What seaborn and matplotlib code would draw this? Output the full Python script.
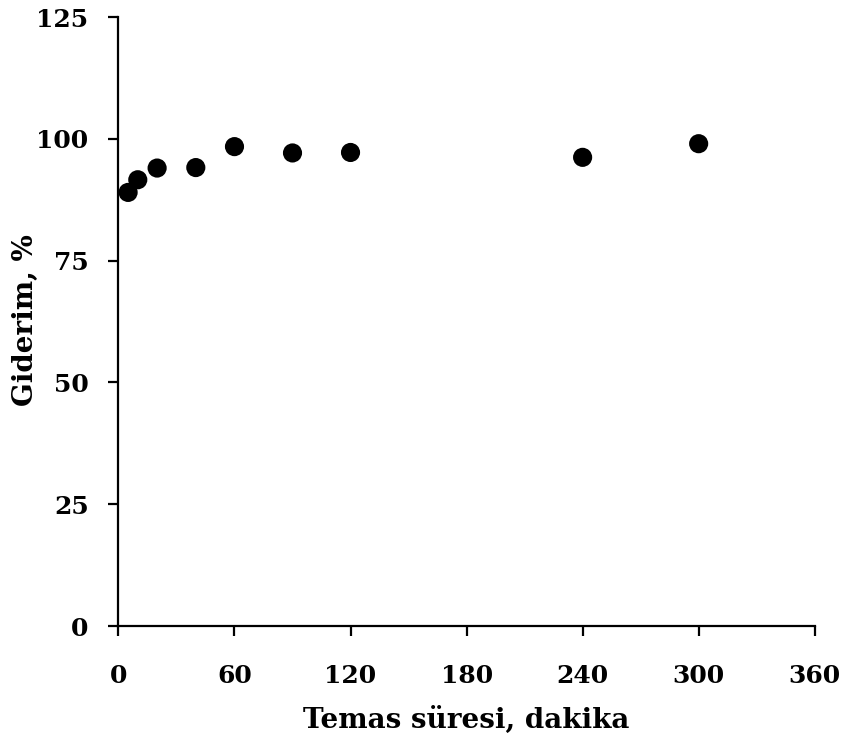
import matplotlib
matplotlib.use("Agg")
import matplotlib.pyplot as plt
import seaborn as sns
import pandas as pd

temas_suresi = [5, 10, 20, 40, 60, 90, 120, 240, 300]
giderim = [89.0, 91.6, 94.0, 94.1, 98.4, 97.1, 97.2, 96.2, 99.0]
x_ticks = [0, 60, 120, 180, 240, 300, 360]
y_ticks = [0, 25, 50, 75, 100, 125]

sns.set_style("ticks")
plt.rcParams['font.family'] = ['DejaVu Serif']
plt.rcParams['font.weight'] = 'bold'
plt.rcParams['text.color'] = 'black'
plt.rcParams['axes.labelcolor'] = 'black'
plt.rcParams['xtick.color'] = 'black'
plt.rcParams['ytick.color'] = 'black'

df = pd.DataFrame({'t': temas_suresi, 'g': giderim})

fig = plt.figure(figsize=(8.46, 7.40), dpi=100)
ax = fig.add_axes([0.14, 0.154, 0.823, 0.823])
sns.scatterplot(data=df, x='t', y='g', ax=ax, color='black', s=190,
                edgecolor='none', clip_on=False, zorder=3)

ax.set_xlim(0, 360)
ax.set_ylim(0, 125)
ax.set_xticks(x_ticks)
ax.set_yticks(y_ticks)
ax.set_xlabel('Temas süresi, dakika', fontsize=20, fontweight='bold')
ax.set_ylabel('Giderim, %', fontsize=20, fontweight='bold')
ax.xaxis.set_label_coords(0.5, -0.131)
ax.yaxis.set_label_coords(-0.114, 0.502)
for lab in ax.get_xticklabels() + ax.get_yticklabels():
    lab.set_fontweight('bold')
ax.tick_params(axis='both', labelsize=18, length=7, width=1.6, direction='out',
               color='black')
ax.tick_params(axis='x', pad=20)
ax.tick_params(axis='y', pad=14.5)
sns.despine(ax=ax)
for sp in ['left', 'bottom']:
    ax.spines[sp].set_linewidth(1.6)
    ax.spines[sp].set_color('black')

fig.savefig('out.png', dpi=100)
